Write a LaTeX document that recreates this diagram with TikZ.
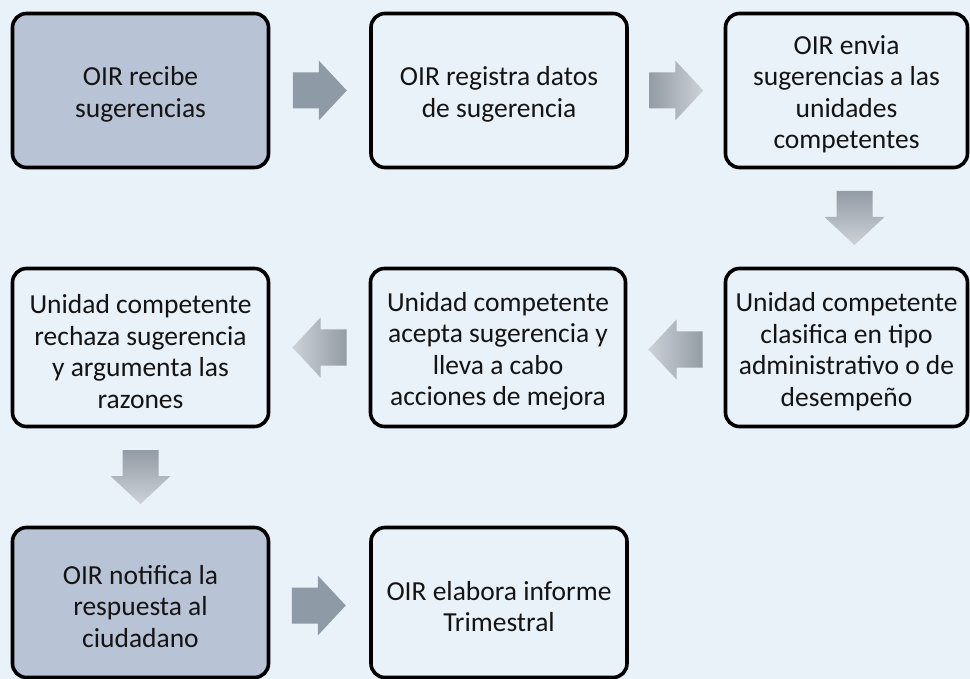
\documentclass[tikz,border=0pt]{standalone}
\usepackage{fontspec}
\setmainfont{Carlito}
\usetikzlibrary{calc}
\definecolor{bg}{HTML}{E9F1F9}
\definecolor{boxfill}{HTML}{B9C3D6}
\definecolor{arrsolid}{HTML}{8E9AA6}
\definecolor{arrdark}{HTML}{939BA4}
\definecolor{arrlight}{HTML}{CDD2D8}
\definecolor{txt}{HTML}{141414}
\tikzset{
  stepbox/.style={draw=black, line width=3.6pt, rounded corners=14pt, inner sep=0pt},
  steptext/.style={align=center, font=\fontsize{27.5}{31.5}\selectfont, text=txt, inner sep=0pt, yshift=-4pt},
  pics/rarrow/.style={code={\path[#1] (-27,-18) -- (-1,-18) -- (-1,-30) -- (27,0) -- (-1,30) -- (-1,18) -- (-27,18) -- cycle;}},
  pics/larrow/.style={code={\path[#1] (27,-18) -- (1,-18) -- (1,-30) -- (-27,0) -- (1,30) -- (1,18) -- (27,18) -- cycle;}},
  pics/darrow/.style={code={\path[#1] (-18,-27) -- (-18,-1) -- (-30,-1) -- (0,27) -- (30,-1) -- (18,-1) -- (18,-27) -- cycle;}},
}
\begin{document}
\begin{tikzpicture}[x=1pt,y=-1pt]
\fill[bg] (0,0) rectangle (970,679);
\useasboundingbox (0,0) rectangle (970,679);

% row 1
\node[stepbox, fill=boxfill, minimum width=256pt, minimum height=154pt,
  label={[steptext]center:{OIR recibe\\sugerencias}}] (b1) at (140.5,90.5) {};
\node[stepbox, minimum width=256pt, minimum height=154pt,
  label={[steptext]center:{OIR registra datos\\de sugerencia}}] (b2) at (499,90.5) {};
\node[stepbox, minimum width=242pt, minimum height=154pt,
  label={[steptext]center:{OIR envia\\sugerencias a las\\unidades\\competentes}}] (b3) at (846.5,90.5) {};

% row 2
\node[stepbox, minimum width=256pt, minimum height=158pt,
  label={[steptext]center:{Unidad competente\\rechaza sugerencia\\y argumenta las\\razones}}] (b4) at (140.5,347.5) {};
\node[stepbox, minimum width=255pt, minimum height=158pt,
  label={[steptext]center:{Unidad competente\\acepta sugerencia y\\lleva a cabo\\acciones de mejora}}] (b5) at (498,347.5) {};
\node[stepbox, minimum width=242pt, minimum height=158pt,
  label={[steptext]center:{Unidad competente\\clasifica en tipo\\administrativo o de\\desempeño}}] (b6) at (846.5,347.5) {};

% row 3
\node[stepbox, fill=boxfill, minimum width=256pt, minimum height=150pt,
  label={[steptext]center:{OIR notifica la\\respuesta al\\ciudadano}}] (b7) at (140.5,602.5) {};
\node[stepbox, minimum width=256pt, minimum height=150pt,
  label={[steptext]center:{OIR elabora informe\\Trimestral}}] (b8) at (499,602.5) {};

% arrow positions
\coordinate (a1) at ($(b1.east)!0.5!(b2.west)$);
\coordinate (a2) at ($(b2.east)!0.5!(b3.west)$);
\coordinate (a3) at ($(b3.south)!0.5!(b6.north)+(8,0)$);
\coordinate (a4) at ($(b6.west)!0.5!(b5.east)+(0,2)$);
\coordinate (a5) at ($(b5.west)!0.5!(b4.east)$);
\coordinate (a6) at ($(b4.south)!0.5!(b7.north)$);
\coordinate (a7) at ($(b7.east)!0.5!(b8.west)+(-1,3)$);

\pic at (a1) {rarrow={fill=arrsolid}};
\pic at (a2) {rarrow={left color=arrdark, right color=arrlight}};
\pic at (a3) {darrow={top color=arrdark, bottom color=arrlight}};
\pic at (a4) {larrow={right color=arrdark, left color=arrlight}};
\pic at (a5) {larrow={right color=arrdark, left color=arrlight}};
\pic at (a6) {darrow={top color=arrdark, bottom color=arrlight}};
\pic at (a7) {rarrow={fill=arrsolid}};
\end{tikzpicture}
\end{document}
